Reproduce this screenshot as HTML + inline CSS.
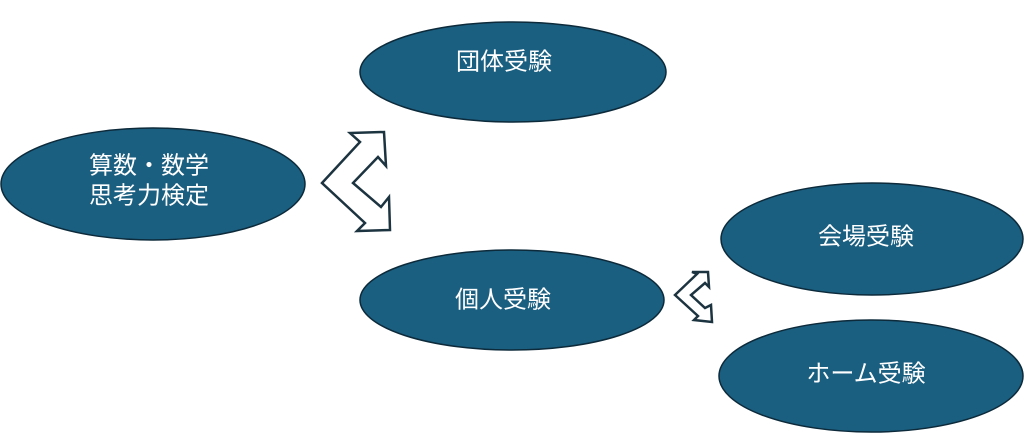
<!DOCTYPE html>
<html><head><meta charset="utf-8"><style>
html,body{margin:0;padding:0;background:#fff;width:1024px;height:436px;overflow:hidden}
svg text{font-family:"Liberation Sans","Noto Sans CJK JP",sans-serif;font-size:24px;fill:#fff;text-anchor:middle;dominant-baseline:central}
</style></head><body>
<svg width="1024" height="436" viewBox="0 0 1024 436" xmlns="http://www.w3.org/2000/svg">
<g fill="#1a5e80" stroke="#0c2a3a" stroke-width="1.5">
<ellipse cx="513" cy="72" rx="153" ry="50"/>
<ellipse cx="153" cy="184" rx="152" ry="56"/>
<ellipse cx="512" cy="300" rx="152" ry="50"/>
<ellipse cx="872" cy="239" rx="151" ry="56"/>
<ellipse cx="871" cy="376" rx="152" ry="56"/>
</g>
<g fill="#fff" stroke="#1c3340" stroke-width="2.5" stroke-linejoin="miter">
<polygon points="322,183 360,142 350,133 384,132 386,166 378,157 353,183 381,207 389,197 390,230 357,231 365,223"/>
<polygon points="675,295 697,274 692,272 708,272 709,287 705,283 691,295 705,308 711,305 712,322 694,320 698,316"/>
</g>
<text x="504" y="62">団体受験</text>
<text x="149" y="166">算数・数学</text>
<text x="149" y="196">思考力検定</text>
<text x="503" y="300">個人受験</text>
<text x="866" y="237">会場受験</text>
<text x="866" y="374">ホーム受験</text>
</svg>
</body></html>
